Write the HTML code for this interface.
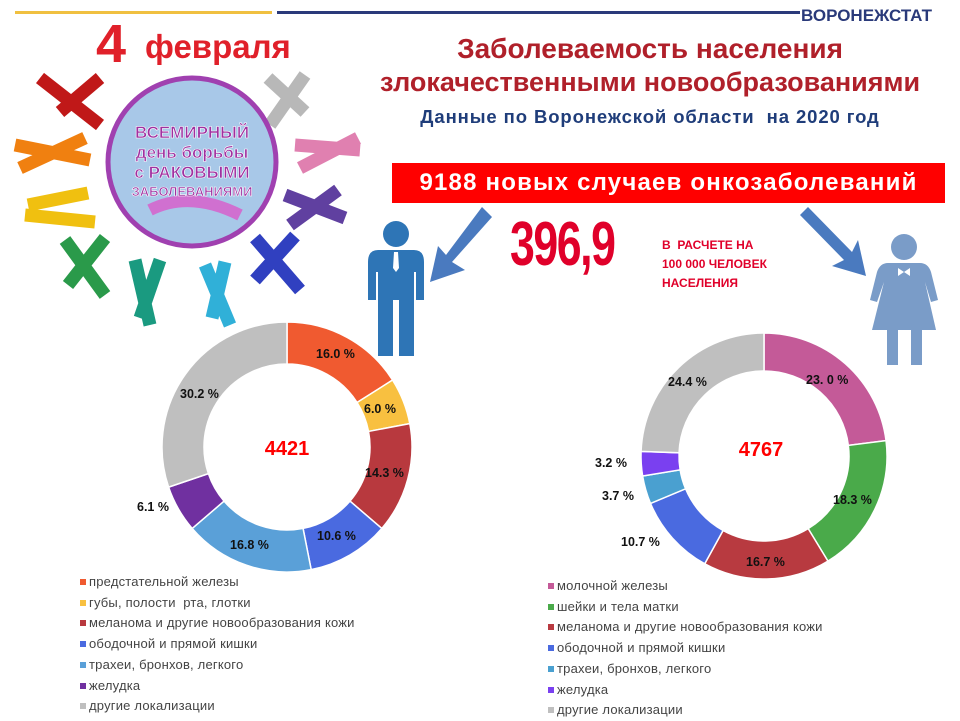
<!DOCTYPE html>
<html><head><meta charset="utf-8">
<style>
body{margin:0;width:960px;height:720px;background:#fff;position:relative;overflow:hidden;font-family:"Liberation Sans",sans-serif}
.a{position:absolute;white-space:nowrap}
.lbl{position:absolute;font:bold 12.5px "Liberation Sans",sans-serif;color:#111;white-space:nowrap}
.leg{position:absolute;font:13px "Liberation Sans",sans-serif;color:#444;white-space:nowrap;letter-spacing:0.2px}
.leg i{display:inline-block;width:6px;height:6px;margin-right:3px;vertical-align:1px}
</style></head><body>
<div class="a" style="left:15px;top:11px;width:257px;height:3px;background:#f0c040"></div>
<div class="a" style="left:277px;top:11px;width:523px;height:3px;background:#2a3a7a"></div>
<div class="a" style="left:801px;top:6px;font:bold 17px 'Liberation Sans',sans-serif;color:#2a3a7a">ВОРОНЕЖСТАТ</div>
<div class="a" style="left:380px;width:540px;text-align:center;top:32px;font:bold 27px 'Liberation Sans',sans-serif;color:#b0202a;line-height:33px"><span style="font-size:28px">Заболеваемость населения</span><br>злокачественными новообразованиями</div>
<div class="a" style="left:380px;width:540px;text-align:center;top:106px;font:bold 18.5px 'Liberation Sans',sans-serif;color:#1f3d7a;letter-spacing:0.9px">Данные по Воронежской области&nbsp; на 2020 год</div>
<div class="a" style="left:392px;top:163px;width:553px;height:40px;background:#ff0000;color:#fff;font:bold 24px 'Liberation Sans',sans-serif;line-height:39px;text-align:center;letter-spacing:1.2px">9188 новых случаев онкозаболеваний</div>
<div class="a" style="left:510px;top:209px;font:bold 62px 'Liberation Sans',sans-serif;color:#e0002a;letter-spacing:-2px;transform:scaleX(0.72);transform-origin:0 0">396,9</div>
<div class="a" style="left:662px;top:236px;font:bold 12px 'Liberation Sans',sans-serif;color:#e0002a;line-height:19px">В&nbsp; РАСЧЕТЕ НА<br>100 000 ЧЕЛОВЕК<br>НАСЕЛЕНИЯ</div>

<svg class="a" style="left:0;top:0" width="960" height="720">
 <text x="96" y="62" font-family="Liberation Sans" font-weight="bold" font-size="54" fill="#e0202a">4</text>
 <text x="145" y="58" font-family="Liberation Sans" font-weight="bold" font-size="33" fill="#e0202a">февраля</text>
 <g fill="none" stroke-width="13" stroke-linecap="butt">
  <path d="M40 78 L100 125 M100 78 L60 112" stroke="#c01818"/>
  <path d="M15 145 L90 160 M20 168 L85 138" stroke="#f08010"/>
  <path d="M25 215 L95 222 M28 205 L88 193" stroke="#f0c010"/>
  <path d="M65 240 L105 295 M105 238 L68 285" stroke="#2a9a4a"/>
  <path d="M135 260 L150 325 M160 260 L140 318" stroke="#1a9a80"/>
  <path d="M205 265 L230 325 M225 262 L212 318" stroke="#30b0d8"/>
  <path d="M305 75 L270 125 M268 78 L305 112" stroke="#b8b8b8"/>
  <path d="M295 145 L360 150 M300 168 L358 138" stroke="#e080b0"/>
  <path d="M285 195 L345 218 M290 225 L338 190" stroke="#6040a0"/>
  <path d="M255 238 L300 290 M295 236 L255 280" stroke="#3040c0"/>
 </g>
 <circle cx="192" cy="162" r="84" fill="#a8c8e8" stroke="#a040b0" stroke-width="5"/>
 <path d="M150 210 Q190 190 240 215" stroke="#d070d0" stroke-width="12" fill="none"/>
 <g font-family="Liberation Sans" font-weight="bold" text-anchor="middle" fill="#a030a0" stroke="#fff" stroke-width="0.6">
  <text x="192" y="138" font-size="17">ВСЕМИРНЫЙ</text>
  <text x="192" y="158" font-size="17">день борьбы</text>
  <text x="192" y="178" font-size="17">с РАКОВЫМИ</text>
  <text x="192" y="196" font-size="13">ЗАБОЛЕВАНИЯМИ</text>
 </g>
 <g fill="#4a7abf">
  <path d="M482 207 L492 217 L452 262 L465 270 L430 282 L438 246 L446 255 Z"/>
  <path d="M800 215 L808 207 L852 252 L858 240 L866 276 L832 266 L844 260 Z"/>
 </g>
 <g fill="#2e75b6">
  <circle cx="396" cy="234" r="13"/>
  <path d="M378 250 H414 Q424 250 424 262 V300 H416 V272 H414 V356 H399 V300 H393 V356 H378 V272 H376 V300 H368 V262 Q368 250 378 250 Z"/>
 </g>
 <path d="M394 252 L398 252 L399 268 L396 272 L393 268 Z" fill="#fff"/>
 <g fill="#7a9cc8">
  <circle cx="904" cy="247" r="13"/>
  <path d="M888 263 H920 Q928 263 931 272 L938 300 L931 302 L925 282 L936 330 H922 V365 H911 V330 H898 V365 H887 V330 H872 L884 282 L877 302 L870 300 L877 272 Q880 263 888 263 Z"/>
 </g>
 <path d="M898 268 L904 272 L910 268 L910 276 L904 272 L898 276 Z" fill="#fff"/>
 <g id="d1"></g><g id="d2"></g>
 <text x="287" y="455" text-anchor="middle" font-family="Liberation Sans" font-weight="bold" font-size="20" fill="#ff0000">4421</text>
 <text x="761" y="456" text-anchor="middle" font-family="Liberation Sans" font-weight="bold" font-size="20" fill="#ff0000">4767</text>
</svg>

<div class="lbl" style="left:316px;top:347px">16.0 %</div>
<div class="lbl" style="left:364px;top:402px">6.0 %</div>
<div class="lbl" style="left:365px;top:466px">14.3 %</div>
<div class="lbl" style="left:317px;top:529px">10.6 %</div>
<div class="lbl" style="left:230px;top:538px">16.8 %</div>
<div class="lbl" style="left:137px;top:500px">6.1 %</div>
<div class="lbl" style="left:180px;top:387px">30.2 %</div>

<div class="lbl" style="left:806px;top:373px">23. 0 %</div>
<div class="lbl" style="left:833px;top:493px">18.3 %</div>
<div class="lbl" style="left:746px;top:555px">16.7 %</div>
<div class="lbl" style="left:621px;top:535px">10.7 %</div>
<div class="lbl" style="left:602px;top:489px">3.7 %</div>
<div class="lbl" style="left:595px;top:456px">3.2 %</div>
<div class="lbl" style="left:668px;top:375px">24.4 %</div>

<div class="leg" style="left:80px;top:572px;line-height:20.7px">
<div><i style="background:#f05a30"></i>предстательной железы</div>
<div><i style="background:#f8c040"></i>губы, полости&nbsp; рта, глотки</div>
<div><i style="background:#b8393e"></i>меланома и другие новообразования кожи</div>
<div><i style="background:#4a6ae0"></i>ободочной и прямой кишки</div>
<div><i style="background:#5aa0d8"></i>трахеи, бронхов, легкого</div>
<div><i style="background:#7030a0"></i>желудка</div>
<div><i style="background:#bfbfbf"></i>другие локализации</div>
</div>
<div class="leg" style="left:548px;top:576px;line-height:20.7px">
<div><i style="background:#c45a98"></i>молочной железы</div>
<div><i style="background:#4aaa4a"></i>шейки и тела матки</div>
<div><i style="background:#b83a40"></i>меланома и другие новообразования кожи</div>
<div><i style="background:#4a6ae0"></i>ободочной и прямой кишки</div>
<div><i style="background:#4aa0d0"></i>трахеи, бронхов, легкого</div>
<div><i style="background:#7a40f0"></i>желудка</div>
<div><i style="background:#bfbfbf"></i>другие локализации</div>
</div>

<script>
function donut(id,cx,cy,ro,ri,vals,cols){
 var g=document.getElementById(id),a=0,s='';
 function p(r,t){return (cx+r*Math.cos(t)).toFixed(2)+' '+(cy+r*Math.sin(t)).toFixed(2);}
 for(var i=0;i<vals.length;i++){
  var a0=a/100*2*Math.PI-Math.PI/2;a+=vals[i];var a1=a/100*2*Math.PI-Math.PI/2;
  var L=(a1-a0)>Math.PI?1:0;
  s+='<path d="M'+p(ro,a0)+' A'+ro+' '+ro+' 0 '+L+' 1 '+p(ro,a1)+' L'+p(ri,a1)+' A'+ri+' '+ri+' 0 '+L+' 0 '+p(ri,a0)+' Z" fill="'+cols[i]+'" stroke="#fff" stroke-width="1.5"/>';
 }
 g.innerHTML=s;
}
donut('d1',287,447,125,83,[16.0,6.0,14.3,10.6,16.8,6.1,30.2],['#f05a30','#f8c040','#b8393e','#4a6ae0','#5aa0d8','#7030a0','#bfbfbf']);
donut('d2',764,456,123,85,[23.0,18.3,16.7,10.7,3.7,3.2,24.4],['#c45a98','#4aaa4a','#b83a40','#4a6ae0','#4aa0d0','#7a40f0','#bfbfbf']);
</script>
</body></html>
